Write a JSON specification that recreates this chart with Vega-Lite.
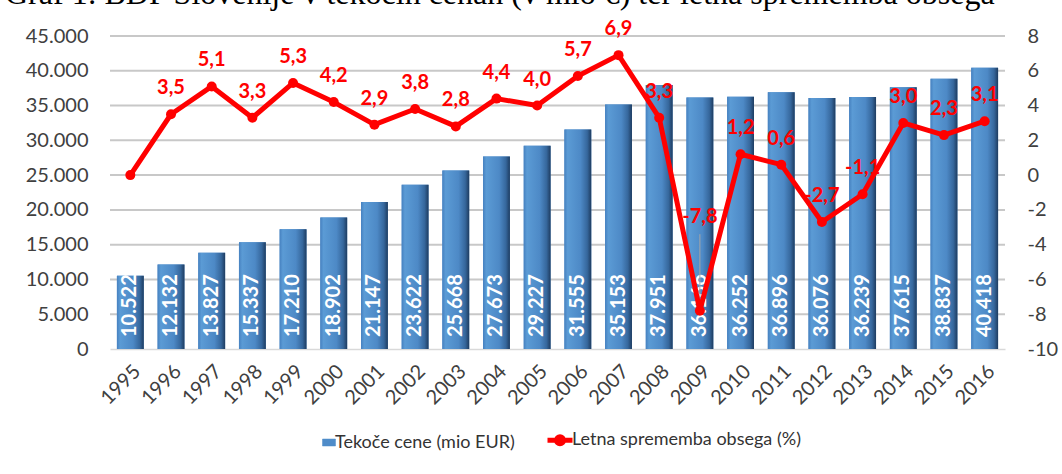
{
  "$schema": "https://vega.github.io/schema/vega-lite/v6.json",
  "width": 895,
  "height": 313,
  "autosize": {"type": "none"},
  "padding": {"left": 110, "top": 36, "right": 57, "bottom": 125},
  "background": "white",
  "title": {
    "text": "Graf 1: BDP Slovenije v tekočih cenah (v mio €) ter letna sprememba obsega",
    "anchor": "start",
    "frame": "group",
    "font": "Liberation Serif",
    "fontSize": 32,
    "fontWeight": "normal",
    "color": "#000000",
    "baseline": "alphabetic",
    "dx": -105,
    "dy": 17,
    "offset": 0
  },
  "config": {
    "locale": {"number": {"decimal": ",", "thousands": ".", "grouping": [3], "currency": ["", " €"], "minus": "-"}},
    "view": {"stroke": null},
    "font": "Lato",
    "legend": {"layout": {"bottom": {"anchor": "middle"}}}
  },
  "datasets": {
    "gdpdata": [
      {"year": 1995, "gdp": 10522, "growth": 0.0},
      {"year": 1996, "gdp": 12132, "growth": 3.5},
      {"year": 1997, "gdp": 13827, "growth": 5.1},
      {"year": 1998, "gdp": 15337, "growth": 3.3},
      {"year": 1999, "gdp": 17210, "growth": 5.3},
      {"year": 2000, "gdp": 18902, "growth": 4.2},
      {"year": 2001, "gdp": 21147, "growth": 2.9},
      {"year": 2002, "gdp": 23622, "growth": 3.8},
      {"year": 2003, "gdp": 25668, "growth": 2.8},
      {"year": 2004, "gdp": 27673, "growth": 4.4},
      {"year": 2005, "gdp": 29227, "growth": 4.0},
      {"year": 2006, "gdp": 31555, "growth": 5.7},
      {"year": 2007, "gdp": 35153, "growth": 6.9},
      {"year": 2008, "gdp": 37951, "growth": 3.3},
      {"year": 2009, "gdp": 36166, "growth": -7.8},
      {"year": 2010, "gdp": 36252, "growth": 1.2},
      {"year": 2011, "gdp": 36896, "growth": 0.6},
      {"year": 2012, "gdp": 36076, "growth": -2.7},
      {"year": 2013, "gdp": 36239, "growth": -1.1},
      {"year": 2014, "gdp": 37615, "growth": 3.0},
      {"year": 2015, "gdp": 38837, "growth": 2.3},
      {"year": 2016, "gdp": 40418, "growth": 3.1}
    ],
    "gridticks": [
      {"tick": 5000}, {"tick": 10000}, {"tick": 15000}, {"tick": 20000}, {"tick": 25000},
      {"tick": 30000}, {"tick": 35000}, {"tick": 40000}, {"tick": 45000}
    ]
  },
  "data": {"name": "gdpdata"},
  "layer": [
    {
      "layer": [
        {
          "data": {"name": "gridticks"},
          "mark": {"type": "rule", "color": "#c8c8c8", "strokeWidth": 2, "opacity": 1},
          "encoding": {
            "y": {
              "field": "tick",
              "type": "quantitative",
              "scale": {"domain": [0, 45000], "nice": false},
              "axis": {
                "title": null,
                "orient": "left",
                "values": [0, 5000, 10000, 15000, 20000, 25000, 30000, 35000, 40000, 45000],
                "format": ",d",
                "labelFont": "Lato",
                "labelFontSize": 20,
                "labelColor": "#404040",
                "labelPadding": 22,
                "labelOverlap": false,
                "ticks": false,
                "domain": false,
                "grid": false
              }
            }
          }
        },
        {
          "mark": {"type": "bar"},
          "encoding": {
            "x": {
              "field": "year",
              "type": "ordinal",
              "scale": {"paddingInner": 0.34, "paddingOuter": 0.17},
              "axis": {
                "title": null,
                "labelAngle": -45,
                "labelFont": "Lato",
                "labelFontSize": 20,
                "labelColor": "#404040",
                "labelPadding": 12,
                "ticks": false,
                "grid": false,
                "domainColor": "#d9d9d9",
                "domainWidth": 1.5
              }
            },
            "y": {
              "field": "gdp",
              "type": "quantitative",
              "axis": {
                "title": null,
                "orient": "left",
                "values": [0, 5000, 10000, 15000, 20000, 25000, 30000, 35000, 40000, 45000],
                "format": ",d",
                "labelFont": "Lato",
                "labelFontSize": 20,
                "labelColor": "#404040",
                "labelPadding": 22,
                "labelOverlap": false,
                "ticks": false,
                "domain": false,
                "grid": false
              }
            },
            "color": {
              "datum": "Tekoče cene (mio EUR)",
              "type": "nominal",
              "scale": {"domain": ["Tekoče cene (mio EUR)", "Letna sprememba obsega (%)"], "range": ["#4f8cc9", "#ff0000"]},
              "legend": {
                "title": null,
                "orient": "bottom",
                "direction": "horizontal",
                "offset": 23,
                "labelFont": "Lato",
                "labelFontSize": 18,
                "labelColor": "#333333",
                "labelOffset": 3,
                "columnPadding": 22,
                "symbolSize": 2500,
                "labelLimit": 400,
                "encode": {
                  "symbols": {
                    "update": {
                      "shape": {"signal": "datum.value === 'Tekoče cene (mio EUR)' ? 'M-0.02,-0.14L0.5,-0.14L0.5,0.14L-0.02,0.14Z' : 'M-0.5,0L0.5,0M0.14,0A0.14,0.14,0,1,1,-0.14,0A0.14,0.14,0,1,1,0.14,0Z'"},
                      "fill": {"signal": "datum.value === 'Tekoče cene (mio EUR)' ? '#3f7bbd' : '#ff0000'"},
                      "stroke": {"signal": "datum.value === 'Tekoče cene (mio EUR)' ? '#2f5f94' : '#ff0000'"},
                      "strokeWidth": {"signal": "datum.value === 'Tekoče cene (mio EUR)' ? 0.5 : 5"},
                      "opacity": {"value": 1}
                    }
                  }
                }
              }
            }
          }
        },
        {
          "mark": {
            "type": "bar",
            "color": {
              "gradient": "linear",
              "x1": 0, "x2": 1, "y1": 0, "y2": 0,
              "stops": [
                {"offset": 0, "color": "#4681c0"},
                {"offset": 0.12, "color": "#5b9bd5"},
                {"offset": 0.6, "color": "#4d89c6"},
                {"offset": 0.85, "color": "#36679c"},
                {"offset": 1, "color": "#1e3c60"}
              ]
            }
          },
          "encoding": {
            "x": {"field": "year", "type": "ordinal"},
            "y": {
              "field": "gdp",
              "type": "quantitative",
              "axis": {
                "title": null,
                "orient": "left",
                "values": [0, 5000, 10000, 15000, 20000, 25000, 30000, 35000, 40000, 45000],
                "format": ",d",
                "labelFont": "Lato",
                "labelFontSize": 20,
                "labelColor": "#404040",
                "labelPadding": 22,
                "labelOverlap": false,
                "ticks": false,
                "domain": false,
                "grid": false
              }
            }
          }
        },
        {
          "mark": {"type": "text", "angle": 270, "align": "left", "baseline": "middle", "dx": 12, "font": "Lato", "fontSize": 20, "fontWeight": "bold", "color": "#ffffff"},
          "encoding": {
            "x": {"field": "year", "type": "ordinal"},
            "y": {
              "datum": 0,
              "type": "quantitative",
              "axis": {
                "title": null,
                "orient": "left",
                "values": [0, 5000, 10000, 15000, 20000, 25000, 30000, 35000, 40000, 45000],
                "format": ",d",
                "labelFont": "Lato",
                "labelFontSize": 20,
                "labelColor": "#404040",
                "labelPadding": 22,
                "labelOverlap": false,
                "ticks": false,
                "domain": false,
                "grid": false
              }
            },
            "text": {"field": "gdp", "type": "quantitative", "format": ",d"}
          }
        }
      ]
    },
    {
      "encoding": {
        "x": {"field": "year", "type": "ordinal"},
        "y": {
          "field": "growth",
          "type": "quantitative",
          "scale": {"domain": [-10, 8], "nice": false},
          "axis": {
            "title": null,
            "orient": "right",
            "values": [-10, -8, -6, -4, -2, 0, 2, 4, 6, 8],
            "format": "d",
            "labelFont": "Lato",
            "labelFontSize": 20,
            "labelColor": "#404040",
            "labelPadding": 22,
            "labelOverlap": false,
            "ticks": false,
            "domain": false,
            "grid": false
          }
        }
      },
      "layer": [
        {
          "transform": [{"filter": "datum.year === 2009"}],
          "mark": {"type": "rule", "color": "#a6a6a6", "strokeWidth": 1},
          "encoding": {
            "y2": {"datum": -3.4}
          }
        },
        {
          "mark": {"type": "line", "strokeWidth": 5, "strokeJoin": "round"},
          "encoding": {
            "color": {"datum": "Letna sprememba obsega (%)", "type": "nominal"}
          }
        },
        {
          "mark": {"type": "point", "filled": true, "size": 100, "color": "#ff0000", "opacity": 1}
        },
        {
          "transform": [{"filter": "datum.year !== 1995 && datum.year !== 2009"}],
          "mark": {"type": "text", "dy": -26, "font": "Lato", "fontSize": 20, "fontWeight": "bold", "color": "#ff0000"},
          "encoding": {
            "text": {"field": "growth", "type": "quantitative", "format": ".1f"}
          }
        },
        {
          "transform": [{"filter": "datum.year === 2009"}],
          "mark": {"type": "text", "dy": -94, "font": "Lato", "fontSize": 20, "fontWeight": "bold", "color": "#ff0000"},
          "encoding": {
            "text": {"field": "growth", "type": "quantitative", "format": ".1f"}
          }
        }
      ]
    }
  ],
  "resolve": {"scale": {"y": "independent", "color": "shared"}}
}
